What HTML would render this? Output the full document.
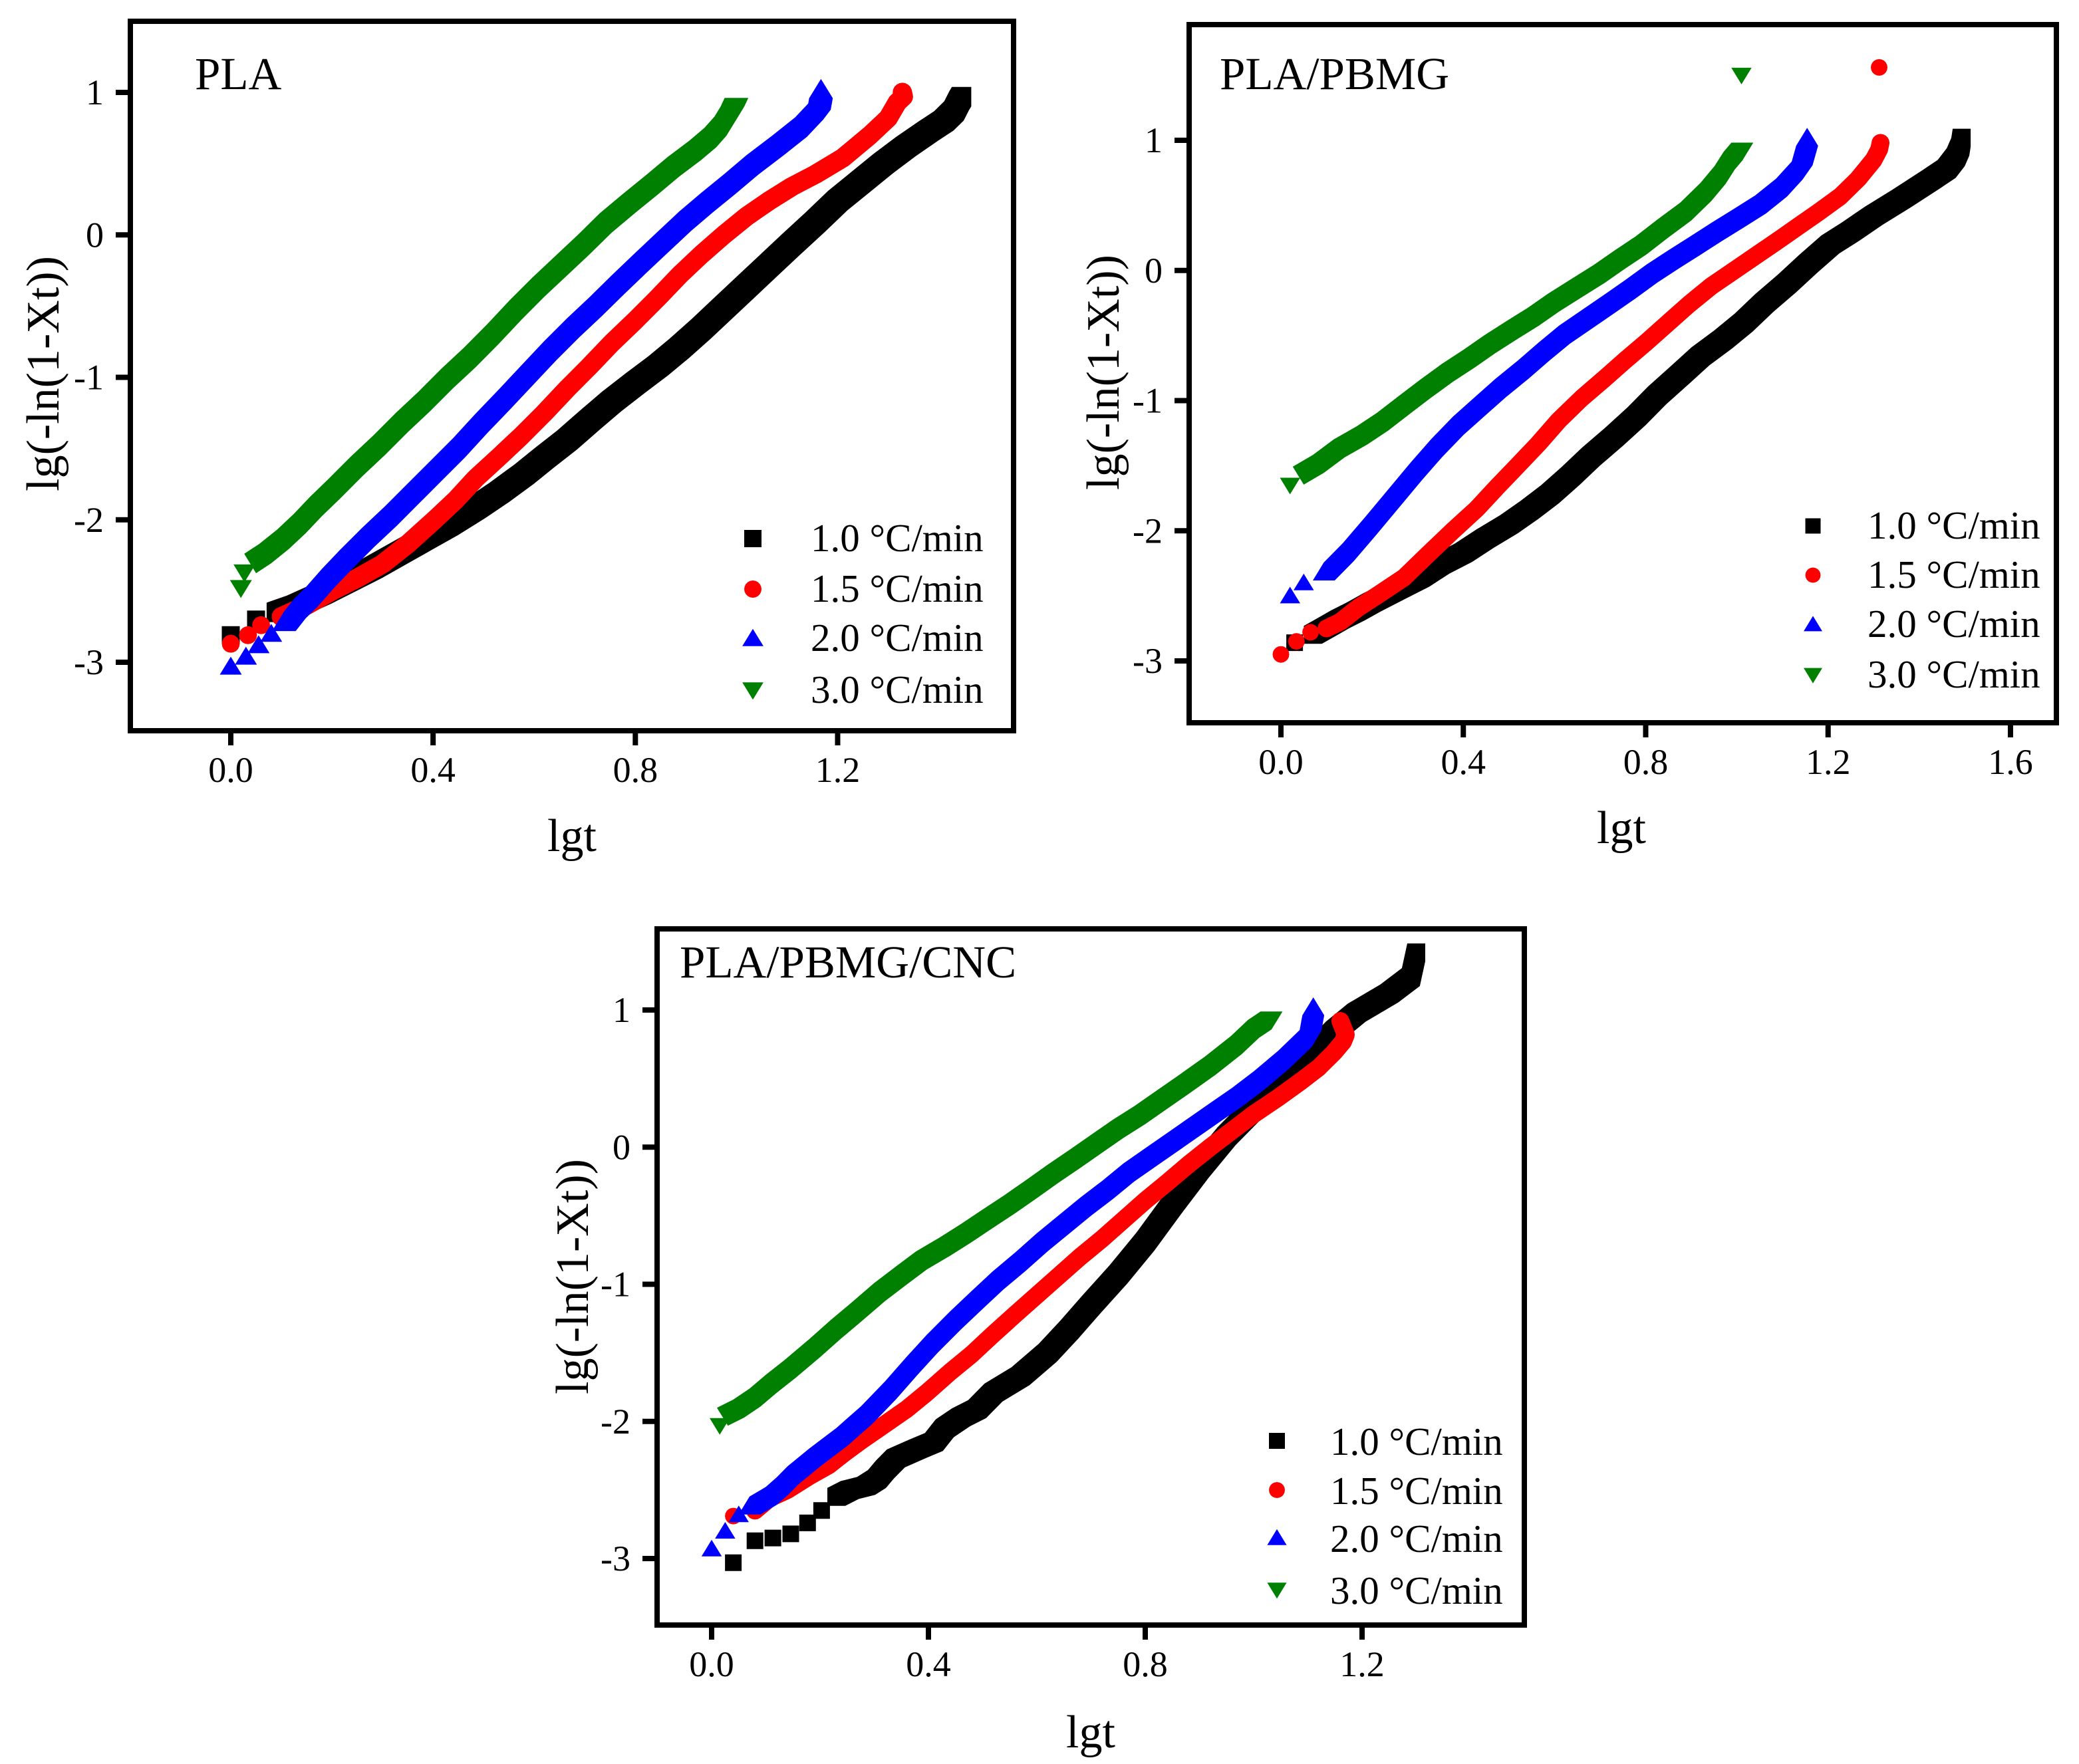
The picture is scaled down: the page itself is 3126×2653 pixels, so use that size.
<!DOCTYPE html>
<html lang="en">
<head>
<meta charset="utf-8">
<title>Avrami plots of lg(-ln(1-Xt)) against lgt</title>
<style>
html,body{margin:0;padding:0;background:#fff;width:3126px;height:2653px;overflow:hidden}
svg{display:block}
text{font-family:"Liberation Serif",serif;fill:#000}
</style>
</head>
<body>
<svg id="figure" xmlns="http://www.w3.org/2000/svg" width="3126" height="2653" viewBox="0 0 3126 2653"></svg>
<script>
const legendLabels = ["1.0 °C/min","1.5 °C/min","2.0 °C/min","3.0 °C/min"];

const plaXTicks = ["0.0","0.4","0.8","1.2"];
const plaYTicks = ["1","0","-1","-2","-3"];
const pbmgXTicks = ["0.0","0.4","0.8","1.2","1.6"];
const pbmgYTicks = ["1","0","-1","-2","-3"];
const cncXTicks = ["0.0","0.4","0.8","1.2"];
const cncYTicks = ["1","0","-1","-2","-3"];

const plaRate10 = [[0,-2.81],[.05,-2.7],[.09,-2.65],[.13,-2.6],[.18,-2.52],[.23,-2.43],[.28,-2.34],[.33,-2.24],[.38,-2.14],[.43,-2.04],[.484,-1.92],[.53,-1.81],[.58,-1.68],[.62,-1.565],[.665,-1.44],[.71,-1.3],[.753,-1.17],[.8,-1.04],[.845,-.92],[.887,-.796],[.93,-.66],[.975,-.51],[1.02,-.36],[1.065,-.21],[1.11,-.06],[1.156,.09],[1.2,.24],[1.245,.37],[1.29,.5],[1.335,.62],[1.38,.73],[1.41,.8],[1.43,.87],[1.44,.94],[1.445,.97]];
const plaRate15 = [[0,-2.87],[.034,-2.81],[.06,-2.74],[.1,-2.68],[.15,-2.6],[.2,-2.5],[.25,-2.41],[.3,-2.31],[.35,-2.17],[.403,-2.0],[.445,-1.86],[.484,-1.71],[.53,-1.56],[.575,-1.41],[.62,-1.25],[.665,-1.08],[.71,-.92],[.753,-.76],[.8,-.6],[.845,-.44],[.887,-.284],[.93,-.14],[.975,0],[1.02,.13],[1.065,.24],[1.11,.34],[1.156,.425],[1.21,.54],[1.264,.7],[1.3,.82],[1.318,.93],[1.33,.97],[1.328,1.0]];
const plaRate20 = [[0,-3.03],[.03,-2.96],[.055,-2.88],[.08,-2.8],[.105,-2.72],[.125,-2.63],[.148,-2.55],[.18,-2.42],[.215,-2.29],[.26,-2.13],[.305,-1.98],[.35,-1.82],[.395,-1.66],[.44,-1.5],[.484,-1.33],[.53,-1.16],[.575,-.99],[.62,-.82],[.665,-.66],[.71,-.51],[.753,-.36],[.8,-.2],[.845,-.05],[.887,.09],[.93,.22],[.975,.35],[1.02,.485],[1.07,.62],[1.116,.75],[1.148,.87],[1.163,.94],[1.167,1.02]];
const plaRate30 = [[.02,-2.48],[.027,-2.37],[.05,-2.3],[.08,-2.23],[.115,-2.13],[.148,-2.02],[.18,-1.9],[.215,-1.78],[.26,-1.62],[.305,-1.47],[.35,-1.31],[.395,-1.16],[.44,-1.0],[.484,-.855],[.53,-.69],[.575,-.52],[.62,-.36],[.665,-.21],[.71,-.06],[.753,.09],[.8,.23],[.845,.36],[.887,.485],[.93,.6],[.96,.69],[.98,.77],[.992,.84],[1.0,.9]];

const pbmgRate10 = [[.03,-2.86],[.07,-2.8],[.1,-2.74],[.13,-2.68],[.164,-2.62],[.2,-2.55],[.25,-2.46],[.306,-2.36],[.35,-2.26],[.4,-2.17],[.448,-2.06],[.5,-1.95],[.545,-1.84],[.59,-1.72],[.635,-1.58],[.68,-1.43],[.73,-1.28],[.78,-1.12],[.825,-.96],[.873,-.81],[.92,-.66],[.97,-.53],[1.015,-.4],[1.06,-.25],[1.11,-.1],[1.156,.05],[1.205,.2],[1.25,.3],[1.3,.42],[1.36,.55],[1.426,.7],[1.46,.78],[1.48,.87],[1.49,.95],[1.493,1.02]];
const pbmgRate15 = [[0,-2.95],[.034,-2.85],[.065,-2.78],[.1,-2.75],[.13,-2.7],[.17,-2.59],[.21,-2.5],[.27,-2.36],[.32,-2.19],[.377,-2.0],[.43,-1.83],[.475,-1.66],[.519,-1.5],[.565,-1.33],[.61,-1.15],[.66,-.98],[.71,-.83],[.755,-.69],[.802,-.55],[.85,-.4],[.895,-.26],[.944,-.12],[.99,-.01],[1.04,.11],[1.086,.22],[1.135,.34],[1.18,.45],[1.227,.57],[1.265,.7],[1.3,.85],[1.312,.93],[1.315,.98]];
const pbmgRate15Outliers = [[1.312,1.56]];
const pbmgRate20 = [[.02,-2.5],[.05,-2.4],[.094,-2.32],[.136,-2.17],[.185,-1.97],[.235,-1.76],[.285,-1.55],[.33,-1.37],[.377,-1.2],[.425,-1.05],[.47,-.91],[.519,-.77],[.565,-.63],[.61,-.5],[.66,-.38],[.71,-.26],[.755,-.15],[.802,-.03],[.85,.08],[.895,.18],[.944,.29],[.99,.39],[1.04,.5],[1.086,.63],[1.12,.76],[1.142,.87],[1.154,1.02]];
const pbmgRate30 = [[.02,-1.65],[.05,-1.57],[.094,-1.48],[.14,-1.36],[.19,-1.26],[.235,-1.155],[.285,-1.02],[.33,-.9],[.377,-.78],[.425,-.67],[.47,-.56],[.519,-.45],[.565,-.35],[.61,-.24],[.66,-.13],[.71,-.02],[.755,.09],[.802,.2],[.85,.33],[.9,.46],[.944,.61],[.975,.74],[.995,.85],[1.012,.92]];
const pbmgRate30Outliers = [[1.01,1.5]];

const cncRate10 = [[.04,-3.03],[.08,-2.87],[.113,-2.85],[.146,-2.82],[.177,-2.74],[.203,-2.65],[.23,-2.55],[.255,-2.5],[.285,-2.47],[.305,-2.42],[.32,-2.35],[.34,-2.27],[.38,-2.2],[.41,-2.15],[.43,-2.05],[.46,-1.97],[.49,-1.91],[.52,-1.79],[.57,-1.67],[.62,-1.5],[.66,-1.33],[.7,-1.15],[.75,-.93],[.8,-.69],[.85,-.42],[.9,-.16],[.95,.08],[1.0,.28],[1.05,.47],[1.1,.65],[1.15,.85],[1.19,.98],[1.25,1.12],[1.29,1.24],[1.3,1.42]];
const cncRate15 = [[.04,-2.69],[.08,-2.65],[.107,-2.56],[.14,-2.5],[.18,-2.4],[.216,-2.32],[.245,-2.23],[.276,-2.14],[.32,-2.02],[.36,-1.91],[.397,-1.79],[.44,-1.64],[.48,-1.51],[.518,-1.37],[.56,-1.22],[.6,-1.08],[.64,-.94],[.68,-.8],[.72,-.67],[.76,-.53],[.8,-.39],[.84,-.26],[.88,-.126],[.92,0],[.96,.12],[1.0,.24],[1.045,.36],[1.087,.48],[1.12,.58],[1.148,.69],[1.165,.77],[1.17,.82],[1.16,.92]];
const cncRate20 = [[0,-2.93],[.025,-2.8],[.05,-2.68],[.07,-2.62],[.1,-2.55],[.12,-2.48],[.14,-2.4],[.18,-2.27],[.23,-2.12],[.276,-1.96],[.32,-1.78],[.36,-1.6],[.397,-1.44],[.44,-1.27],[.48,-1.12],[.518,-.98],[.56,-.84],[.6,-.7],[.64,-.57],[.68,-.44],[.72,-.32],[.76,-.19],[.8,-.08],[.84,.03],[.88,.14],[.92,.25],[.96,.36],[1.0,.48],[1.045,.63],[1.087,.79],[1.105,.91],[1.11,1.02]];
const cncRate30 = [[.015,-2.03],[.03,-1.96],[.06,-1.9],[.09,-1.82],[.12,-1.72],[.155,-1.61],[.2,-1.46],[.24,-1.32],[.276,-1.2],[.32,-1.05],[.36,-.93],[.397,-.82],[.44,-.72],[.48,-.62],[.518,-.52],[.56,-.41],[.6,-.3],[.64,-.187],[.68,-.08],[.72,.03],[.76,.14],[.8,.24],[.84,.35],[.88,.46],[.93,.6],[.978,.75],[1.01,.87],[1.033,.93]];

const NS = 'http://www.w3.org/2000/svg';
const svg = document.getElementById('figure');

function make(tag, attrs, parent, text) {
  const el = document.createElementNS(NS, tag);
  for (const k in attrs) el.setAttribute(k, attrs[k]);
  if (text !== undefined) el.textContent = text;
  parent.appendChild(el);
  return el;
}

function markerVerts(kind, s) {
  const out = [];
  if (kind === 'square') { out.push([-s/2,-s/2],[s/2,-s/2],[s/2,s/2],[-s/2,s/2]); }
  if (kind === 'circle') { for (let i = 0; i < 20; i++) out.push([s/2*Math.cos(i*Math.PI/10), s/2*Math.sin(i*Math.PI/10)]); }
  if (kind === 'up') { out.push([0,-s*.55],[s*.61,s*.45],[-s*.61,s*.45]); }
  if (kind === 'down') { out.push([0,s*.55],[s*.61,-s*.45],[-s*.61,-s*.45]); }
  return out;
}

function hull(points) {
  const p = points.slice().sort((a,b) => a[0]-b[0] || a[1]-b[1]);
  const cross = (o,a,b) => (a[0]-o[0])*(b[1]-o[1])-(a[1]-o[1])*(b[0]-o[0]);
  const lower = [], upper = [];
  for (const q of p) { while (lower.length > 1 && cross(lower[lower.length-2], lower[lower.length-1], q) <= 0) lower.pop(); lower.push(q); }
  for (const q of p.slice().reverse()) { while (upper.length > 1 && cross(upper[upper.length-2], upper[upper.length-1], q) <= 0) upper.pop(); upper.push(q); }
  return lower.slice(0,-1).concat(upper.slice(0,-1));
}

function polyD(pts) {
  return 'M' + pts.map(p => p[0].toFixed(1) + ' ' + p[1].toFixed(1)).join('L') + 'Z';
}

function drawPanel(cfg) {
  const g = make('g', {}, svg);
  
  

  const xOf = v => cfg.x0 + v * cfg.xUnit;
  const yOf = v => cfg.y0 - v * cfg.yUnit;
  const sw = 8;

  const frame = make('rect', {x: cfg.left + sw/2, y: cfg.top + sw/2, width: cfg.right - cfg.left - sw, height: cfg.bottom - cfg.top - sw, fill: 'none', stroke: '#000', 'stroke-width': sw}, g);
  
  

  cfg.xTicks.forEach(label => {
    const v = parseFloat(label);
    const tick = make('line', {x1: xOf(v), x2: xOf(v), y1: cfg.bottom, y2: cfg.bottom + 18, stroke: '#000', 'stroke-width': 8}, g);
    
    
    const t = make('text', {x: xOf(v), y: cfg.bottom + 73, 'text-anchor': 'middle', 'font-size': 54}, g, label);
    
    
  });

  cfg.yTicks.forEach(label => {
    const v = parseFloat(label);
    const tick = make('line', {x1: cfg.left - 18, x2: cfg.left, y1: yOf(v), y2: yOf(v), stroke: '#000', 'stroke-width': 8}, g);
    
    
    const t = make('text', {x: cfg.left - 36, y: yOf(v) + 18, 'text-anchor': 'end', 'font-size': 54}, g, label);
    
    
  });

  const xTitle = make('text', {x: cfg.xTitleX, y: cfg.xTitleY, 'text-anchor': 'middle', 'font-size': 70}, g, 'lgt');
  
  

  const yTitle = make('text', {transform: 'translate(' + cfg.yTitleX + ' ' + cfg.yTitleY + ') rotate(-90)', 'text-anchor': 'middle', 'font-size': 70}, g, 'lg(-ln(1-Xt))');
  
  

  const title = make('text', {x: cfg.titleX, y: cfg.titleY, 'font-size': 69}, g, cfg.title);
  
  

  cfg.series.forEach((s, i) => {
    const sg = make('g', {fill: s.color}, g);
    
    
    const verts = markerVerts(s.kind, cfg.size);
    const bandVerts = markerVerts(s.kind, cfg.size * 1.08);
    const px = s.data.map(d => [xOf(d[0]), yOf(d[1])]);
    let d = '';
    for (let k = s.loose; k < px.length; k++) {
      const a = px[k-1], b = px[k];
      if (!a) continue;
      const cloud = bandVerts.map(v => [v[0]+a[0], v[1]+a[1]]).concat(bandVerts.map(v => [v[0]+b[0], v[1]+b[1]]));
      d += polyD(hull(cloud));
    }
    if (d) {
      const band = make('path', {d: d}, sg);
      
      
    }
    s.data.concat(s.outliers || []).forEach(pt => {
      const c = [xOf(pt[0]), yOf(pt[1])];
      const m = make('path', {d: polyD(verts.map(v => [v[0]+c[0], v[1]+c[1]]))}, sg);
      
      
    });
  });

  cfg.series.forEach((s, i) => {
    const ly = cfg.legendY[i];
    const verts = markerVerts(s.kind, cfg.legendSize);
    const m = make('path', {d: polyD(verts.map(v => [v[0]+cfg.legendX, v[1]+ly])), fill: s.color}, g);
    
    
    const t = make('text', {x: cfg.legendTextX, y: ly + cfg.legendBase, 'font-size': 59}, g, legendLabels[i]);
    
    
  });
}

drawPanel({
  name: 'pla', title: 'PLA', titleX: 293, titleY: 134,
  left: 192, right: 1528, top: 28, bottom: 1103,
  x0: 347, xUnit: 760.4, y0: 353.25, yUnit: 214.25,
  xTicks: plaXTicks, yTicks: plaYTicks, size: 27,
  xTitleX: 860, xTitleY: 1280, yTitleX: 88, yTitleY: 562,
  legendX: 1132, legendTextX: 1219, legendY: [810, 886, 960, 1038], legendBase: 19, legendSize: 26,
  series: [
    {data: plaRate10, kind: 'square', color: '#000', loose: 3},
    {data: plaRate15, kind: 'circle', color: '#f00', loose: 4},
    {data: plaRate20, kind: 'up', color: '#00f', loose: 5},
    {data: plaRate30, kind: 'down', color: '#008000', loose: 3}
  ]
});

drawPanel({
  name: 'pla-pbmg', title: 'PLA/PBMG', titleX: 1834, titleY: 134,
  left: 1784, right: 3096, top: 33, bottom: 1091,
  x0: 1926, xUnit: 685.6, y0: 406.75, yUnit: 195.75,
  xTicks: pbmgXTicks, yTicks: pbmgYTicks, size: 25,
  xTitleX: 2438, xTitleY: 1268, yTitleX: 1682, yTitleY: 560,
  legendX: 2726, legendTextX: 2808, legendY: [791, 865, 939, 1015], legendBase: 19, legendSize: 23,
  series: [
    {data: pbmgRate10, kind: 'square', color: '#000', loose: 2},
    {data: pbmgRate15, kind: 'circle', color: '#f00', loose: 4, outliers: pbmgRate15Outliers},
    {data: pbmgRate20, kind: 'up', color: '#00f', loose: 3},
    {data: pbmgRate30, kind: 'down', color: '#008000', loose: 2, outliers: pbmgRate30Outliers}
  ]
});

drawPanel({
  name: 'pla-pbmg-cnc', title: 'PLA/PBMG/CNC', titleX: 1022, titleY: 1470,
  left: 984, right: 2296, top: 1393, bottom: 2448,
  x0: 1070, xUnit: 815, y0: 1725.25, yUnit: 206.25,
  xTicks: cncXTicks, yTicks: cncYTicks, size: 25,
  xTitleX: 1640, xTitleY: 2628, yTitleX: 884, yTitleY: 1920,
  legendX: 1920, legendTextX: 2000, legendY: [2167, 2241, 2313, 2391], legendBase: 21, legendSize: 24,
  series: [
    {data: cncRate10, kind: 'square', color: '#000', loose: 7},
    {data: cncRate15, kind: 'circle', color: '#f00', loose: 2},
    {data: cncRate20, kind: 'up', color: '#00f', loose: 4},
    {data: cncRate30, kind: 'down', color: '#008000', loose: 2}
  ]
});
</script>
</body>
</html>
